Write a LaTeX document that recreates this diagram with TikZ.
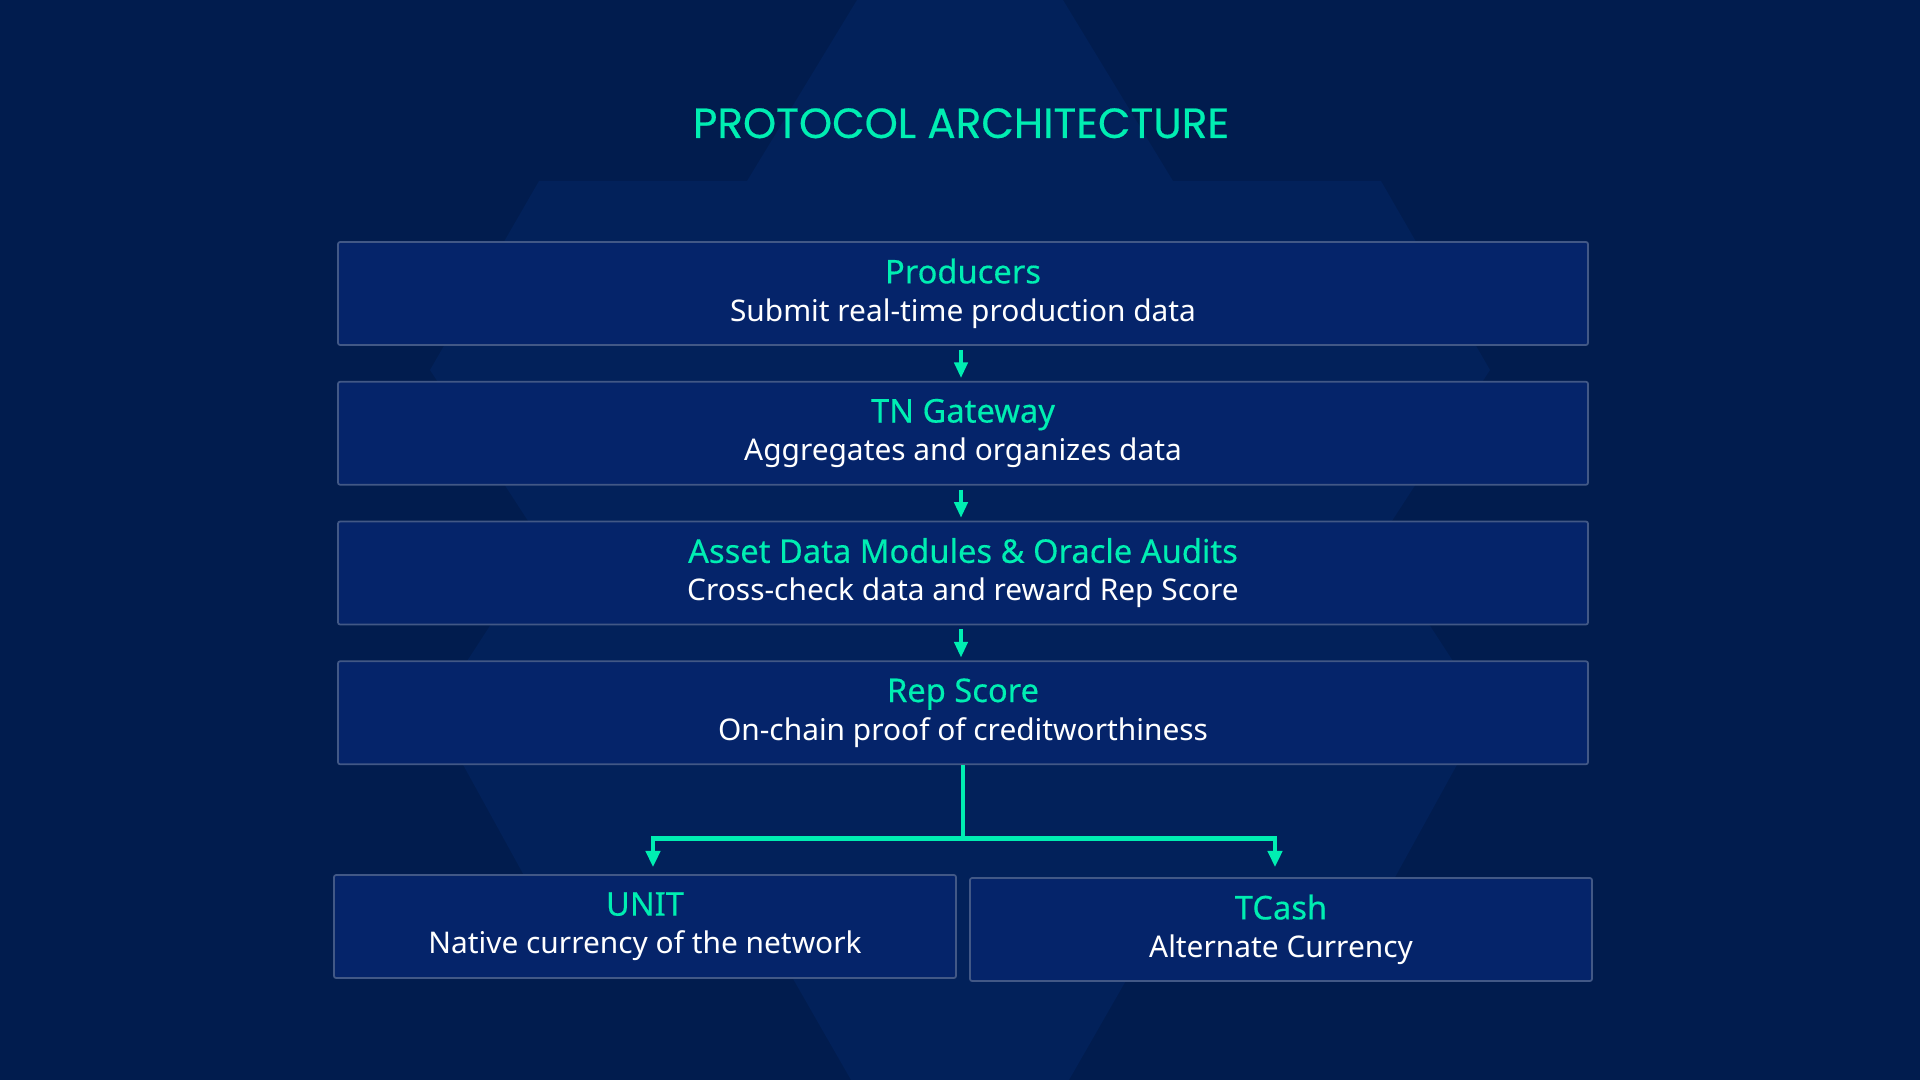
\documentclass[tikz,border=0pt]{standalone}
\usepackage{fontspec}
\setmainfont{Noto Sans}
\newfontfamily\titlefont{Poppins}[FakeBold=0.5]
\newfontfamily\headfont{Noto Sans}[FakeBold=0.35]
\usetikzlibrary{positioning,arrows.meta}

\definecolor{navy}{RGB}{1,28,78}
\definecolor{hexnavy}{RGB}{2,33,90}
\definecolor{boxblue}{RGB}{5,36,106}
\definecolor{boxline}{RGB}{66,88,134}
\definecolor{mint}{RGB}{0,238,178}

\newcommand{\layerhead}[1]{{\headfont\fontsize{9.3}{10.4}\selectfont\textcolor{mint}{#1}}}

\begin{document}
\begin{tikzpicture}[node distance=0.35cm,
    layer/.style={draw=boxline, line width=0.5pt, fill=boxblue, rounded corners=0.6pt,
        minimum width=12.5cm, minimum height=1.03cm, inner sep=0pt, align=center,
        text=white, font=\fontsize{8.5}{10.8}\selectfont},
    coin/.style={layer, minimum width=6.22cm},
    flow/.style={draw=mint, line width=0.9pt, -{Triangle[length=4.4pt,width=3.8pt]}},
    trunk/.style={draw=mint, line width=1.4pt}]

    \useasboundingbox (0,0) rectangle (19.2,-10.8);
    \fill[navy] (0,0) rectangle (19.2,-10.8);
    \fill[hexnavy] (8.57,0) -- (7.47,-1.81) -- (5.39,-1.81) -- (4.30,-3.70) -- (5.43,-5.44)
        -- (4.34,-7.12) -- (5.54,-9.30) -- (7.65,-9.30) -- (8.51,-10.8)
        -- (10.69,-10.8) -- (11.55,-9.30) -- (13.66,-9.30) -- (14.86,-7.12) -- (13.77,-5.44)
        -- (14.90,-3.70) -- (13.81,-1.81) -- (11.73,-1.81) -- (10.63,0) -- cycle;

    \node [anchor=base, text=mint, font=\titlefont\fontsize{12}{14}\selectfont] (title) at (9.61,-1.38) {PROTOCOL ARCHITECTURE};

    \node [layer] (producers) at (9.63,-2.935) {\layerhead{Producers}\\Submit real-time production data};
    \node [layer, below=of producers] (gateway) {\layerhead{TN Gateway}\\Aggregates and organizes data};
    \node [layer, below=of gateway] (audits) {\layerhead{Asset Data Modules \& Oracle Audits}\\Cross-check data and reward Rep Score};
    \node [layer, below=of audits] (repscore) {\layerhead{Rep Score}\\On-chain proof of creditworthiness};

    \node [coin, anchor=north west] (unit) at ([xshift=-0.04cm, yshift=-1.09cm] repscore.south west) {\layerhead{UNIT}\\Native currency of the network};
    \node [coin, anchor=north east] (tcash) at ([xshift=0.04cm, yshift=-1.12cm] repscore.south east) {\layerhead{TCash}\\Alternate Currency};

    \draw[flow] ([xshift=-0.02cm, yshift=-0.04cm] producers.south) -- ([xshift=-0.02cm, yshift=0.03cm] gateway.north);
    \draw[flow] ([xshift=-0.02cm, yshift=-0.04cm] gateway.south) -- ([xshift=-0.02cm, yshift=0.03cm] audits.north);
    \draw[flow] ([xshift=-0.02cm, yshift=-0.04cm] audits.south) -- ([xshift=-0.02cm, yshift=0.03cm] repscore.north);

    \coordinate [below=0.73cm of repscore.south] (split);
    \draw[trunk] (repscore.south) -- (split);
    \draw[trunk, -{Triangle[length=4.6pt,width=4pt]}] (split) -| ([xshift=0.08cm, yshift=0.07cm] unit.north);
    \draw[trunk, -{Triangle[length=4.6pt,width=4pt]}] (split) -| ([xshift=-0.06cm, yshift=0.1cm] tcash.north);
\end{tikzpicture}
\end{document}
